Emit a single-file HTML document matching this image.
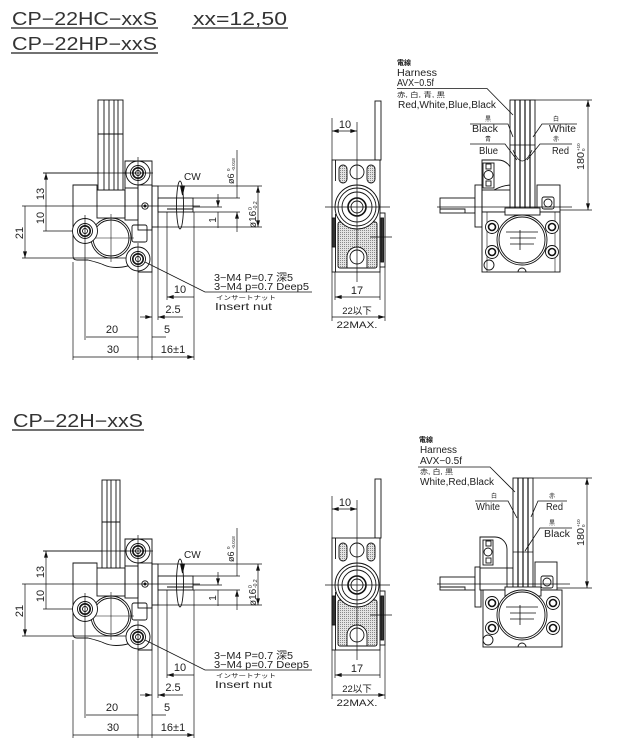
<!DOCTYPE html>
<html><head><meta charset="utf-8"><style>
html,body{margin:0;padding:0;background:#fff;}
svg{display:block;}
text{font-family:"Liberation Sans","Noto Sans CJK JP",sans-serif;fill:#222;}
.j{font-family:"Liberation Sans","Noto Sans CJK JP",sans-serif;}
</style></head><body>
<svg width="617" height="755" viewBox="0 0 617 755" xmlns="http://www.w3.org/2000/svg">
<defs>
<marker id="a" viewBox="0 0 10 6" refX="10" refY="3" markerWidth="7" markerHeight="4" markerUnits="userSpaceOnUse" orient="auto-start-reverse"><path d="M0,0L10,3L0,6z" fill="#111"/></marker>
<pattern id="st" width="2" height="2" patternUnits="userSpaceOnUse"><rect width="2" height="2" fill="#e4e4e4"/><rect width="1" height="1" fill="#8a8a8a"/></pattern>

<g id="LG" fill="none" stroke="#111" stroke-width="0.9">
 <!-- extension lines left -->
 <path d="M43,173H126 M22,206H200 M43,231H74 M22,258H126" stroke-width="0.7"/>
 <path d="M46,173V206 M46,206V231 M25,206V258" stroke-width="0.7" marker-start="url(#a)" marker-end="url(#a)"/>
 <!-- body -->
 <path d="M97,190V185H73V256Q73,260 77,260H88Q100,263 104,265Q115,270 131,265"/>
 <rect x="97" y="190" width="28" height="28"/>
 <rect x="125" y="188" width="13" height="32"/>
 <rect x="138" y="185" width="14" height="45"/>
 <path d="M125,188V161H152V272H138"/>
 <circle cx="145" cy="206" r="3.2"/><circle cx="145" cy="206" r="1" fill="#111"/>
 <rect x="152" y="186" width="6" height="41"/>
 <rect x="158" y="198" width="35" height="14"/>
 <path d="M167,209H193"/>
 <rect x="132" y="225" width="15" height="17" rx="2"/>
 <circle cx="111" cy="238" r="20"/>
 <circle cx="111" cy="238" r="18"/>
 <path d="M111,214V262 M88,238H134" stroke-width="0.6"/>
 <!-- bosses -->
 <circle cx="138" cy="173" r="12" fill="#fff"/>
 <circle cx="138" cy="173" r="7.5"/><circle cx="138" cy="173" r="5.2" stroke-width="1.6"/><circle cx="138" cy="173" r="2.5"/>
 <circle cx="85" cy="231" r="12.5" fill="#fff"/>
 <circle cx="85" cy="231" r="7.5"/><circle cx="85" cy="231" r="5.2" stroke-width="1.6"/><circle cx="85" cy="231" r="2.5"/>
 <circle cx="138" cy="259" r="12" fill="#fff"/>
 <circle cx="138" cy="259" r="7.5"/><circle cx="138" cy="259" r="5.2" stroke-width="1.6"/><circle cx="138" cy="259" r="2.5"/>
 <path d="M138,157V188 M138,243V360 M85,215V340 M124,173H153" stroke-width="0.7"/>
 <!-- CW -->
 <ellipse cx="180" cy="205" rx="3.5" ry="24"/>
 <path d="M180.5,186l2,9l2,-9z" fill="#111"/>
 <!-- right dims -->
 <path d="M158,186H262 M158,227H262 M193,198H240 M193,212H240 M193,207H222" stroke-width="0.7"/>
 <path d="M258,186V227" stroke-width="0.7" marker-start="url(#a)" marker-end="url(#a)"/>
 <path d="M237,150V198 M218,194V207" stroke-width="0.7" marker-end="url(#a)"/>
 <path d="M237,212V232 M218,212V228" stroke-width="0.7" marker-start="url(#a)"/>
 <!-- bottom ext -->
 <path d="M73,262V360 M152,272V360 M158,227V320 M167,212V300 M194,212V360" stroke-width="0.7"/>
 <path d="M167,297H194 M86,337H138 M73,357H152 M152,357H194" stroke-width="0.7" marker-start="url(#a)" marker-end="url(#a)"/>
 <path d="M140,317H152" stroke-width="0.7" marker-end="url(#a)"/>
 <path d="M158,317H183 M152,337H166" stroke-width="0.7" marker-start="url(#a)"/>
 <!-- leader -->
 <path d="M145,262L205,292H312" stroke-width="0.8"/>
</g>

<g id="MG" fill="none" stroke="#111" stroke-width="0.9">
 <rect x="375" y="101" width="6" height="59" fill="#fff"/>
 <path d="M332,118V160 M357,122V160" stroke-width="0.7"/>
 <path d="M332,131H357" stroke-width="0.7" marker-start="url(#a)" marker-end="url(#a)"/>
 <rect x="332" y="160" width="48" height="112" fill="#fff"/>
 <path d="M335.5,160V181 M335.5,214V272"/>
 <rect x="332" y="218" width="3.5" height="29" fill="#333"/>
 <rect x="380" y="213" width="5" height="54" fill="#fff"/>
 <rect x="381" y="218" width="2.5" height="44" fill="#333"/>
 <rect x="339" y="165" width="8" height="18" rx="4" fill="url(#st)"/>
 <rect x="367" y="165" width="8" height="18" rx="4" fill="url(#st)"/>
 <rect x="338" y="222" width="39" height="46" rx="2" fill="url(#st)"/>
 <path d="M347,268V257A10,10 0 0 1 367,257V268Z" fill="#fff"/>
 <circle cx="357" cy="172" r="7" fill="#fff"/>
 <circle cx="357" cy="257" r="7" fill="#fff"/>
 <circle cx="357" cy="207" r="22" fill="#fff"/>
 <circle cx="357" cy="207" r="19"/>
 <circle cx="357" cy="207" r="15"/>
 <circle cx="357" cy="207" r="9" stroke-width="1.6"/>
 <circle cx="357" cy="207" r="6"/>
 <path d="M357,160V282 M325,207H390 M370,237H392" stroke-width="0.7"/>
 <path d="M335,272V300 M380,272V300 M332,272V321 M385,267V321" stroke-width="0.7"/>
 <path d="M335,297H380 M332,317H385" stroke-width="0.7" marker-start="url(#a)" marker-end="url(#a)"/>
</g>
</defs>

<!-- ===== Titles ===== -->
<text x="12" y="25" font-size="18" textLength="145" lengthAdjust="spacingAndGlyphs" style="fill:#333">CP−22HC−xxS</text>
<path d="M11,28H158" stroke="#444" stroke-width="1.4"/>
<text x="193" y="25" font-size="18" textLength="94" lengthAdjust="spacingAndGlyphs" style="fill:#333">xx=12,50</text>
<path d="M192,28H288" stroke="#444" stroke-width="1.4"/>
<text x="12" y="50" font-size="18" textLength="145" lengthAdjust="spacingAndGlyphs" style="fill:#333">CP−22HP−xxS</text>
<path d="M11,53H158" stroke="#444" stroke-width="1.4"/>
<text x="13" y="427" font-size="18" textLength="130" lengthAdjust="spacingAndGlyphs" style="fill:#333">CP−22H−xxS</text>
<path d="M12,430H144" stroke="#444" stroke-width="1.4"/>

<!-- ===== Left views ===== -->
<use href="#LG"/>
<use href="#LG" transform="translate(0,378)"/>
<!-- cable top (4 wires) -->
<g fill="none" stroke="#111" stroke-width="0.9">
 <rect x="98" y="100" width="25" height="90" fill="#fff"/>
 <path d="M104,100V190 M109,100V190 M114,100V190 M118,100V190 M98,134H123"/>
 <rect x="102" y="480" width="18" height="88" fill="#fff"/>
 <path d="M107,480V568 M111,480V568 M116,480V568 M102,522H120"/>
 <path d="M43,173H126 M43,551H126" stroke-width="0.7"/>
</g>

<!-- left texts top -->
<g font-size="11">
<text transform="translate(44,194) rotate(-90)" text-anchor="middle">13</text>
<text transform="translate(44,218) rotate(-90)" text-anchor="middle">10</text>
<text transform="translate(23,233) rotate(-90)" text-anchor="middle">21</text>
<text x="184" y="180" font-size="10">CW</text>
<g transform="translate(234,184) rotate(-90)"><text x="0" y="0" font-size="9">ø6</text><text x="13" y="-4" font-size="4.5">0</text><text x="13" y="1" font-size="4.5">-0.018</text></g>
<g transform="translate(256,228) rotate(-90)"><text x="0" y="0" font-size="10">ø16</text><text x="18" y="-4" font-size="5">0</text><text x="18" y="1" font-size="5">-0.2</text></g>
<text transform="translate(216,220) rotate(-90)" text-anchor="middle" font-size="10">1</text>
<text x="180" y="293" text-anchor="middle">10</text>
<text x="173" y="313" text-anchor="middle">2.5</text>
<text x="112" y="333" text-anchor="middle">20</text>
<text x="167" y="333" text-anchor="middle">5</text>
<text x="113" y="353" text-anchor="middle">30</text>
<text x="173" y="353" text-anchor="middle">16±1</text>
<text x="214" y="281" font-size="10" textLength="79" lengthAdjust="spacingAndGlyphs">3−M4 P=0.7 深5</text>
<text x="214" y="290" font-size="10" textLength="95" lengthAdjust="spacingAndGlyphs">3−M4 p=0.7 Deep5</text>
<text x="216" y="300" font-size="6" textLength="60" lengthAdjust="spacingAndGlyphs">インサートナット</text>
<text x="215" y="310" font-size="10" textLength="57" lengthAdjust="spacingAndGlyphs">Insert nut</text>
</g>
<!-- left texts bottom -->
<g font-size="11">
<text transform="translate(44,572) rotate(-90)" text-anchor="middle">13</text>
<text transform="translate(44,596) rotate(-90)" text-anchor="middle">10</text>
<text transform="translate(23,611) rotate(-90)" text-anchor="middle">21</text>
<text x="184" y="558" font-size="10">CW</text>
<g transform="translate(234,562) rotate(-90)"><text x="0" y="0" font-size="9">ø6</text><text x="13" y="-4" font-size="4.5">0</text><text x="13" y="1" font-size="4.5">-0.018</text></g>
<g transform="translate(256,606) rotate(-90)"><text x="0" y="0" font-size="10">ø16</text><text x="18" y="-4" font-size="5">0</text><text x="18" y="1" font-size="5">-0.2</text></g>
<text transform="translate(216,598) rotate(-90)" text-anchor="middle" font-size="10">1</text>
<text x="180" y="671" text-anchor="middle">10</text>
<text x="173" y="691" text-anchor="middle">2.5</text>
<text x="112" y="711" text-anchor="middle">20</text>
<text x="167" y="711" text-anchor="middle">5</text>
<text x="113" y="731" text-anchor="middle">30</text>
<text x="173" y="731" text-anchor="middle">16±1</text>
<text x="214" y="659" font-size="10" textLength="79" lengthAdjust="spacingAndGlyphs">3−M4 P=0.7 深5</text>
<text x="214" y="668" font-size="10" textLength="95" lengthAdjust="spacingAndGlyphs">3−M4 p=0.7 Deep5</text>
<text x="216" y="678" font-size="6" textLength="60" lengthAdjust="spacingAndGlyphs">インサートナット</text>
<text x="215" y="688" font-size="10" textLength="57" lengthAdjust="spacingAndGlyphs">Insert nut</text>
</g>

<!-- ===== Middle views ===== -->
<use href="#MG"/>
<use href="#MG" transform="translate(0,378)"/>
<g font-size="11">
<text x="345" y="128" text-anchor="middle">10</text>
<text x="357" y="294" text-anchor="middle">17</text>
<text x="357" y="314" text-anchor="middle" font-size="9.5">22以下</text>
<text x="357" y="328" text-anchor="middle" font-size="9.5" textLength="41" lengthAdjust="spacingAndGlyphs">22MAX.</text>
<text x="345" y="506" text-anchor="middle">10</text>
<text x="357" y="672" text-anchor="middle">17</text>
<text x="357" y="692" text-anchor="middle" font-size="9.5">22以下</text>
<text x="357" y="706" text-anchor="middle" font-size="9.5" textLength="41" lengthAdjust="spacingAndGlyphs">22MAX.</text>
</g>

<!-- ===== Right view top ===== -->
<g fill="none" stroke="#111" stroke-width="0.9">
 <path d="M535,100H592 M560,210H592" stroke-width="0.7"/>
 <path d="M588,100V210" stroke-width="0.7" marker-start="url(#a)" marker-end="url(#a)"/>
 <!-- shaft & flange -->
 <rect x="440" y="198" width="35" height="15" fill="#fff"/>
 <path d="M440,209H465V213"/>
 <rect x="475" y="185" width="7" height="42" fill="#fff"/>
 <!-- bracket -->
 <path d="M482,212V160H498A14,14 0 0 1 512,174V212" fill="#fff"/>
 <rect x="483" y="163" width="11" height="25"/>
 <rect x="486" y="164" width="5" height="5"/>
 <rect x="486" y="181" width="5" height="5"/>
 <circle cx="488.5" cy="175" r="4.5" fill="#fff"/>
 <path d="M494,190Q503,185 512,185"/>
 <rect x="482" y="190" width="30" height="22"/>
 <!-- right box -->
 <rect x="537" y="185" width="23" height="27" fill="#fff"/>
 <rect x="542" y="197" width="12" height="12" rx="2"/>
 <circle cx="548" cy="203" r="4"/>
 <!-- cable -->
 <rect x="510" y="100" width="25" height="112" fill="#fff"/>
 <path d="M515,100V212 M520,100V212 M525,100V212 M530,100V212" stroke-width="1.2"/>
 <path d="M510,145H535 M513,150Q522,172 532,150" stroke-width="0.7"/>
 <!-- lower body -->
 <rect x="482" y="212" width="78" height="60" fill="#fff"/>
 <rect x="505" y="208" width="35" height="7" fill="#fff"/>
 <path d="M487,212V272 M555,212V272" stroke-width="0.6"/>
 <circle cx="522" cy="240" r="25" fill="#fff"/>
 <circle cx="522" cy="240" r="23"/>
 <path d="M506,232H538 M510,238H536 M510,244H534 M520,230V250" stroke-width="0.8"/>
 <circle cx="492" cy="227" r="6.5" fill="#fff"/><circle cx="492" cy="227" r="3.5" stroke-width="1.6"/>
 <circle cx="552" cy="227" r="6.5" fill="#fff"/><circle cx="552" cy="227" r="3.5" stroke-width="1.6"/>
 <circle cx="492" cy="252" r="6.5" fill="#fff"/><circle cx="492" cy="252" r="3.5" stroke-width="1.6"/>
 <circle cx="552" cy="252" r="6.5" fill="#fff"/><circle cx="552" cy="252" r="3.5" stroke-width="1.6"/>
 <circle cx="489" cy="265" r="5"/>
 <path d="M518,272A4,4 0 0 1 526,272"/>
 <path d="M437,207H572" stroke-width="0.7"/>
 <!-- leaders -->
 <path d="M397,88.5H487L513,115" stroke-width="0.8"/>
 <path d="M470,124H508L513,137 M577,124H542L533,137 M470,144H505L517,160 M572,144H540L527,160" stroke-width="0.8"/>
</g>
<text x="397" y="65" font-size="7" font-weight="bold">電線</text>
<text x="397" y="76" font-size="10" textLength="40" lengthAdjust="spacingAndGlyphs">Harness</text>
<text x="397" y="86" font-size="10" textLength="37" lengthAdjust="spacingAndGlyphs">AVX−0.5f</text>
<text x="397" y="97" font-size="7" textLength="48" lengthAdjust="spacingAndGlyphs">赤, 白, 青, 黒</text>
<text x="398" y="108" font-size="10" textLength="98" lengthAdjust="spacingAndGlyphs">Red,White,Blue,Black</text>
<text x="488" y="121" font-size="6" text-anchor="middle">黒</text>
<text x="472" y="132" font-size="10" textLength="26" lengthAdjust="spacingAndGlyphs">Black</text>
<text x="556" y="121" font-size="6" text-anchor="middle">白</text>
<text x="549" y="132" font-size="10" textLength="27" lengthAdjust="spacingAndGlyphs">White</text>
<text x="488" y="141" font-size="6" text-anchor="middle">青</text>
<text x="479" y="154" font-size="10" textLength="19" lengthAdjust="spacingAndGlyphs">Blue</text>
<text x="556" y="141" font-size="6" text-anchor="middle">赤</text>
<text x="552" y="154" font-size="10" textLength="17" lengthAdjust="spacingAndGlyphs">Red</text>
<g transform="translate(584,170) rotate(-90)"><text x="0" y="0" font-size="10" textLength="18" lengthAdjust="spacingAndGlyphs">180</text><text x="19" y="-4" font-size="4.5">+10</text><text x="19" y="1" font-size="4.5">0</text></g>

<!-- ===== Right view bottom ===== -->
<g fill="none" stroke="#111" stroke-width="0.9">
 <path d="M533,478H592 M557,588H592" stroke-width="0.7"/>
 <path d="M587,478V588" stroke-width="0.7" marker-start="url(#a)" marker-end="url(#a)"/>
 <rect x="440" y="577" width="35" height="13" fill="#fff"/>
 <path d="M440,587H465V590"/>
 <rect x="475" y="567" width="6" height="40" fill="#fff"/>
 <path d="M480,590V537H495A12,12 0 0 1 507,549V590" fill="#fff"/>
 <rect x="483" y="540" width="10" height="25"/>
 <rect x="486" y="541" width="5" height="5"/>
 <rect x="486" y="558" width="5" height="5"/>
 <circle cx="488" cy="552" r="4" fill="#fff"/>
 <rect x="480" y="568" width="33" height="22"/>
 <rect x="535" y="562" width="22" height="28" fill="#fff"/>
 <rect x="541" y="576" width="12" height="12" rx="2"/>
 <circle cx="547" cy="582" r="4"/>
 <rect x="513" y="478" width="20" height="112" fill="#fff"/>
 <path d="M518,478V590 M523,478V590 M528,478V590" stroke-width="1.2"/>
 <path d="M513,552H533" stroke-width="0.7"/>
 <rect x="483" y="590" width="79" height="57" fill="#fff"/>
 <rect x="505" y="587" width="36" height="9" fill="#fff"/>
 <circle cx="522" cy="615" r="25" fill="#fff"/>
 <circle cx="522" cy="615" r="23"/>
 <path d="M506,607H538 M510,613H536 M510,619H534 M520,605V625" stroke-width="0.8"/>
 <circle cx="492" cy="603" r="6.5" fill="#fff"/><circle cx="492" cy="603" r="3.5" stroke-width="1.6"/>
 <circle cx="553" cy="603" r="6.5" fill="#fff"/><circle cx="553" cy="603" r="3.5" stroke-width="1.6"/>
 <circle cx="492" cy="628" r="6.5" fill="#fff"/><circle cx="492" cy="628" r="3.5" stroke-width="1.6"/>
 <circle cx="553" cy="628" r="6.5" fill="#fff"/><circle cx="553" cy="628" r="3.5" stroke-width="1.6"/>
 <circle cx="488" cy="640" r="5"/>
 <path d="M518,647A4,4 0 0 1 526,647"/>
 <path d="M437,584H570" stroke-width="0.7"/>
 <path d="M418,467H490L515,492" stroke-width="0.8"/>
 <path d="M475,501H508L517,518 M567,501H538L531,517 M572,528H540L525,551" stroke-width="0.8"/>
</g>
<text x="419" y="442" font-size="7" font-weight="bold">電線</text>
<text x="420" y="453" font-size="10" textLength="37" lengthAdjust="spacingAndGlyphs">Harness</text>
<text x="420" y="464" font-size="10" textLength="42" lengthAdjust="spacingAndGlyphs">AVX−0.5f</text>
<text x="420" y="474" font-size="7" textLength="33" lengthAdjust="spacingAndGlyphs">赤, 白, 黒</text>
<text x="420" y="485" font-size="10" textLength="74" lengthAdjust="spacingAndGlyphs">White,Red,Black</text>
<text x="494" y="498" font-size="6" text-anchor="middle">白</text>
<text x="476" y="510" font-size="10" textLength="24" lengthAdjust="spacingAndGlyphs">White</text>
<text x="552" y="498" font-size="6" text-anchor="middle">赤</text>
<text x="546" y="510" font-size="10" textLength="17" lengthAdjust="spacingAndGlyphs">Red</text>
<text x="552" y="525" font-size="6" text-anchor="middle">黒</text>
<text x="544" y="537" font-size="10" textLength="26" lengthAdjust="spacingAndGlyphs">Black</text>
<g transform="translate(584,546) rotate(-90)"><text x="0" y="0" font-size="10" textLength="18" lengthAdjust="spacingAndGlyphs">180</text><text x="19" y="-4" font-size="4.5">+10</text><text x="19" y="1" font-size="4.5">0</text></g>
</svg>
</body></html>
